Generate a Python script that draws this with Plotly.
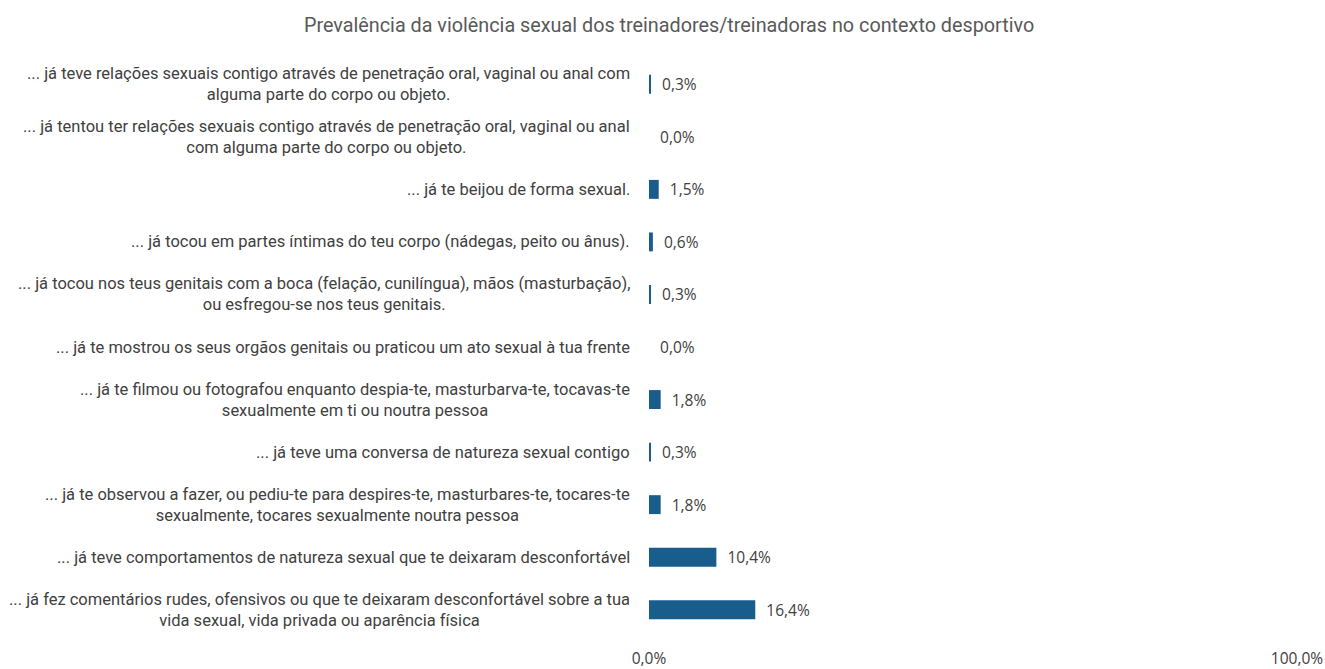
import plotly.graph_objects as go

# Survey items (coach behaviours), top to bottom
items = [
    "... já teve relações sexuais contigo através de penetração oral, vaginal ou anal com<br>alguma parte do corpo ou objeto.",
    "... já tentou ter relações sexuais contigo através de penetração oral, vaginal ou anal<br>com alguma parte do corpo ou objeto.",
    "... já te beijou de forma sexual.",
    "... já tocou em partes íntimas do teu corpo (nádegas, peito ou ânus).",
    "... já tocou nos teus genitais com a boca (felação, cunilíngua), mãos (masturbação),<br>ou esfregou-se nos teus genitais.",
    "... já te mostrou os seus orgãos genitais ou praticou um ato sexual à tua frente",
    "... já te filmou ou fotografou enquanto despia-te, masturbarva-te, tocavas-te<br>sexualmente em ti ou noutra pessoa",
    "... já teve uma conversa de natureza sexual contigo",
    "... já te observou a fazer, ou pediu-te para despires-te, masturbares-te, tocares-te<br>sexualmente, tocares sexualmente noutra pessoa",
    "... já teve comportamentos de natureza sexual que te deixaram desconfortável",
    "... já fez comentários rudes, ofensivos ou que te deixaram desconfortável sobre a tua<br>vida sexual, vida privada ou aparência física",
]

# Prevalence (%)
prevalence = [0.3, 0.0, 1.5, 0.6, 0.3, 0.0, 1.8, 0.3, 1.8, 10.4, 16.4]

x_ticks = [0, 100]
x_tick_labels = ["0,0%", "100,0%"]

title = "Prevalência da violência sexual dos treinadores/treinadoras no contexto desportivo"

row_ids = list(range(len(items)))
bar_color = "#195d8c"
label_font = "Roboto, sans-serif"
value_font = "Open Sans, Noto Sans, sans-serif"

fig = go.Figure()
fig.add_trace(go.Bar(
    x=prevalence,
    y=row_ids,
    orientation="h",
    marker=dict(color=bar_color, line=dict(width=0)),
    width=0.36,
    text=["\u00a0\u00a0" + f"{v:.1f}".replace(".", ",") + "%" for v in prevalence],
    textposition="outside",
    constraintext="none",
    textfont=dict(family=value_font, size=15.5, color="#404040"),
    cliponaxis=False,
    hoverinfo="skip",
))

# Category labels: centred multi-line blocks right-aligned against the axis
for i, label in zip(row_ids, items):
    fig.add_annotation(
        x=0, xref="paper", y=i, yref="y",
        text=label, showarrow=False,
        xanchor="right", yanchor="middle", align="center",
        xshift=-17,
        font=dict(family=label_font, size=16.5, color="#404040"),
    )

fig.update_layout(
    width=1325, height=669,
    margin=dict(l=649, r=28, t=58, b=33),
    paper_bgcolor="white", plot_bgcolor="white",
    showlegend=False,
    title=dict(
        text=title, x=0.505, xanchor="center", y=0.962, yanchor="middle",
        font=dict(family=label_font, size=19.8, color="#595959"),
    ),
    xaxis=dict(
        range=[0, 100], tickvals=x_ticks, ticktext=x_tick_labels,
        showgrid=True, gridcolor="#e4e4e4", gridwidth=1,
        zeroline=False, showline=False,
        ticks="outside", ticklen=8, tickcolor="rgba(0,0,0,0)",
        tickfont=dict(family=value_font, size=15.5, color="#404040"),
        automargin=False,
        fixedrange=True,
    ),
    yaxis=dict(
        range=[len(items) - 0.5, -0.5],
        showticklabels=False, showgrid=False, zeroline=False,
        automargin=False,
        fixedrange=True,
    ),
)

fig.write_html("out.html")
